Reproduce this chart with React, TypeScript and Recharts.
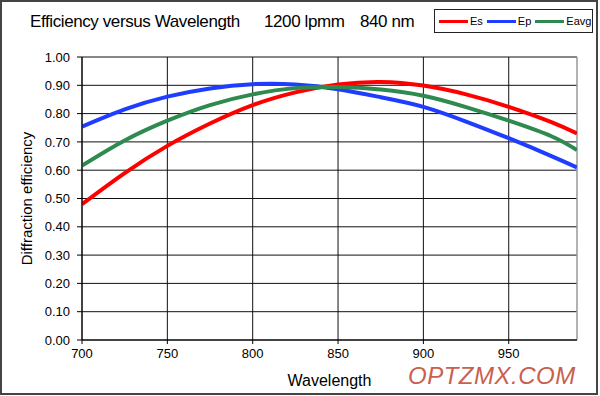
import React from 'react';
import { LineChart, Line, XAxis, YAxis, CartesianGrid, Legend, ReferenceLine } from 'recharts';

const wavelengths = [700, 725, 750, 775, 800, 825, 850, 875, 900, 925, 950, 975, 990];
const es = [0.48, 0.59, 0.686, 0.765, 0.83, 0.875, 0.903, 0.912, 0.899, 0.868, 0.824, 0.77, 0.73];
const ep = [0.754, 0.815, 0.86, 0.889, 0.904, 0.903, 0.886, 0.858, 0.824, 0.772, 0.713, 0.65, 0.61];
const eavg = [0.616, 0.705, 0.775, 0.83, 0.868, 0.89, 0.894, 0.885, 0.863, 0.823, 0.775, 0.72, 0.671];

const xTicks = [700, 750, 800, 850, 900, 950];
const yTicks = [0, 0.1, 0.2, 0.3, 0.4, 0.5, 0.6, 0.7, 0.8, 0.9, 1.0];

const SERIES = [
  { key: 'Es', color: '#ff0000' },
  { key: 'Ep', color: '#1f3dff' },
  { key: 'Eavg', color: '#2e8a4e' },
];

const data = wavelengths.map((w, i) => ({ w, Es: es[i], Ep: ep[i], Eavg: eavg[i] }));

const FONT = '"Liberation Sans", Arial, sans-serif';

const LegendBox = () => (
  <div
    style={{
      width: 159,
      height: 24,
      boxSizing: 'border-box',
      border: '1.5px solid #222',
      background: '#fff',
      display: 'flex',
      alignItems: 'center',
      paddingLeft: 4,
      fontFamily: FONT,
      fontSize: 11,
      color: '#000',
    }}
  >
    {SERIES.map((s) => (
      <div key={s.key} style={{ display: 'flex', alignItems: 'center', marginRight: 4 }}>
        <span style={{ display: 'inline-block', width: 29, height: 3, background: s.color, marginRight: 2 }} />
        <span>{s.key}</span>
      </div>
    ))}
  </div>
);

const App = () => {
  return (
    <div style={{ position: 'absolute', left: 0, top: 0, width: 600, height: 396, background: '#fff', fontFamily: FONT }}>
      <LineChart width={600} height={396} data={data} margin={{ top: 57, right: 23, bottom: 0, left: 0 }}>
        <CartesianGrid stroke="#111" strokeWidth={1} horizontalValues={yTicks} verticalValues={xTicks} />
        <XAxis
          dataKey="w"
          type="number"
          domain={[700, 990]}
          ticks={xTicks}
          allowDataOverflow
          height={56}
          stroke="#000"
          tickSize={4}
          tickMargin={5}
          tick={{ fontSize: 13, fill: '#000', fontFamily: FONT }}
          label={{ value: 'Wavelength', position: 'insideBottom', offset: 10, fontSize: 16, fill: '#000', fontFamily: FONT }}
        />
        <YAxis
          type="number"
          domain={[0, 1]}
          ticks={yTicks}
          width={82}
          stroke="#000"
          tickSize={5}
          tickMargin={7}
          tickFormatter={(v: number) => v.toFixed(2)}
          tick={{ fontSize: 13, fill: '#000', fontFamily: FONT }}
          label={{ value: 'Diffraction  efficiency', angle: -90, position: 'insideLeft', offset: 27, fontSize: 15, fill: '#000', fontFamily: FONT, style: { textAnchor: 'middle' } }}
        />
        <ReferenceLine x={990} stroke="#999" strokeWidth={1.5} />
        <Legend
          layout="vertical"
          align="center"
          verticalAlign="middle"
          wrapperStyle={{ position: 'absolute', top: 9, left: 434, width: 159 }}
          content={() => <LegendBox />}
        />
        {SERIES.map((s) => (
          <Line
            key={s.key}
            type="natural"
            dataKey={s.key}
            stroke={s.color}
            strokeWidth={4}
            dot={false}
            isAnimationActive={false}
          />
        ))}
      </LineChart>
      <div style={{ position: 'absolute', left: 30, top: 12, fontSize: 17, letterSpacing: -0.4, color: '#000', whiteSpace: 'pre' }}>
        Efficiency versus Wavelength
      </div>
      <div style={{ position: 'absolute', left: 264, top: 12, fontSize: 17, letterSpacing: -0.4, color: '#000', whiteSpace: 'pre' }}>
        1200 lpmm
      </div>
      <div style={{ position: 'absolute', left: 360, top: 12, fontSize: 17, letterSpacing: -0.4, color: '#000', whiteSpace: 'pre' }}>
        840 nm
      </div>
      <div style={{ position: 'absolute', left: 408, top: 362, fontSize: 24, letterSpacing: 0.5, fontStyle: 'italic', color: '#c9604f', whiteSpace: 'pre' }}>
        OPTZMX.COM
      </div>
      <div style={{ position: 'absolute', left: 0, top: 0, width: 598, height: 395, boxSizing: 'border-box', border: '2px solid #444', pointerEvents: 'none' }} />
    </div>
  );
};

export default App;
